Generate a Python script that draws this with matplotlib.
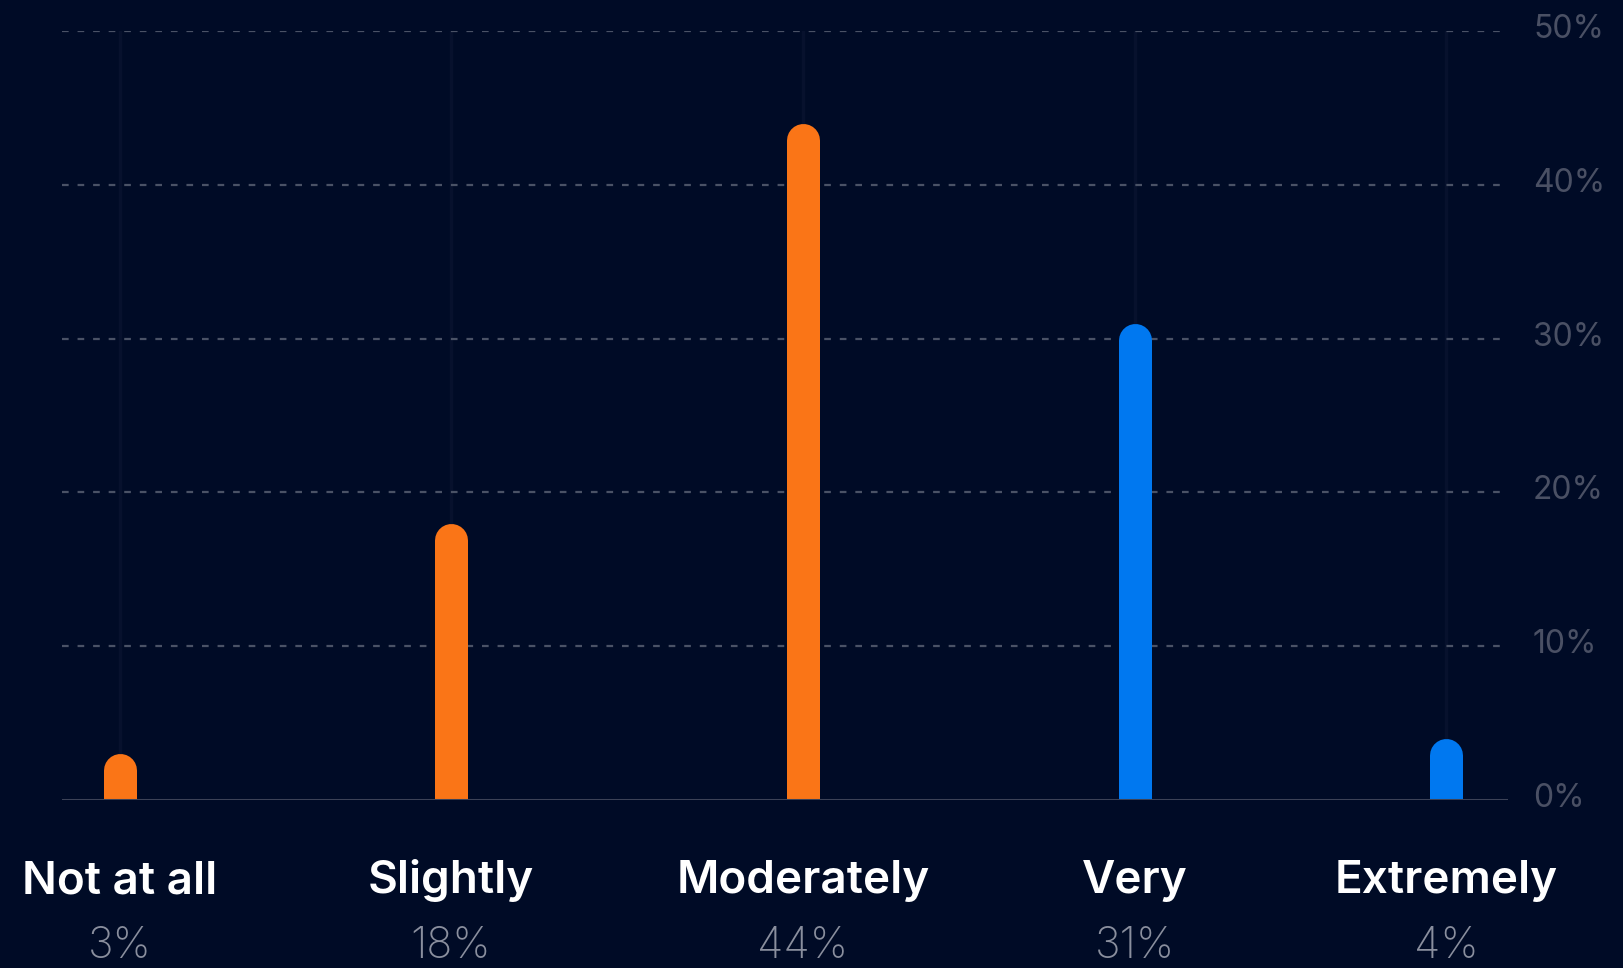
import matplotlib.pyplot as plt
from matplotlib.transforms import ScaledTranslation, blended_transform_factory

# survey answers
categories = ['Not at all', 'Slightly', 'Moderately', 'Very', 'Extremely']
shares = [3, 18, 44, 31, 4]
bar_colors = ['#fa7517', '#fa7517', '#fa7517', '#0078f0', '#0078f0']
y_ticks = [0, 10, 20, 30, 40, 50]
y_tick_labels = ['0%', '10%', '20%', '30%', '40%', '50%']

# slot centres along the row (pixels)
slot_x = [120, 451, 803, 1135, 1446]

BG = '#000b26'
GRID = '#4a5266'
W, H, DPI = 1624, 968, 100
left_px, right_px, base_px, top_px = 62, 1508, 800, 31
bar_w = 33  # px

fig = plt.figure(figsize=(W / DPI, H / DPI), dpi=DPI, facecolor=BG)
ax = fig.add_axes([left_px / W, (H - base_px) / H,
                   (right_px - left_px) / W, (base_px - top_px) / H])
ax.set_facecolor(BG)
ax.set_xlim(left_px, right_px)
ax.set_ylim(0, 50)

px_per_unit = (base_px - top_px) / 50
r_units = (bar_w / 2) / px_per_unit

# faint column guides
for x in slot_x:
    ax.axvline(x, color='#07112d', lw=2.5, zorder=0)

# dashed gridlines
for t in y_ticks[1:]:
    ax.axhline(t, color=GRID, lw=1.6, ls=(0, (3, 4)), zorder=1)
ax.axhline(0, color='#3c4257', lw=2.2, zorder=3)

# bars with rounded tops: thick line, round cap, clipped at the baseline
lw_pt = bar_w * 72 / DPI
for x, v, c in zip(slot_x, shares, bar_colors):
    ax.plot([x, x], [-5, v - r_units], color=c, lw=lw_pt,
            solid_capstyle='round', zorder=2)

for s in ax.spines.values():
    s.set_visible(False)
ax.set_xticks([])
ax.yaxis.tick_right()
ax.set_yticks(y_ticks)
ax.set_yticklabels(y_tick_labels)
ax.tick_params(axis='y', length=0, pad=18, labelsize=23, labelcolor='#4a5064')
shift = ScaledTranslation(0, 5 / DPI, fig.dpi_scale_trans)
for lab in ax.get_yticklabels():
    lab.set_fontfamily(['Inter', 'DejaVu Sans'])
    lab.set_transform(lab.get_transform() + shift)

tr = blended_transform_factory(ax.transData, ax.transAxes)
axis_h = base_px - top_px
for x, name, v in zip(slot_x, categories, shares):
    ax.text(x, -93 / axis_h, name, transform=tr, ha='center', va='baseline',
            fontsize=33, color='white', fontweight='semibold',
            family=['Inter', 'DejaVu Sans'])
    ax.text(x, -158 / axis_h, f'{v}%', transform=tr, ha='center', va='baseline',
            fontsize=31, color='#8a8f9e', fontweight='light',
            family=['Inter', 'DejaVu Sans'])

fig.savefig('out.png', dpi=DPI, facecolor=BG)
